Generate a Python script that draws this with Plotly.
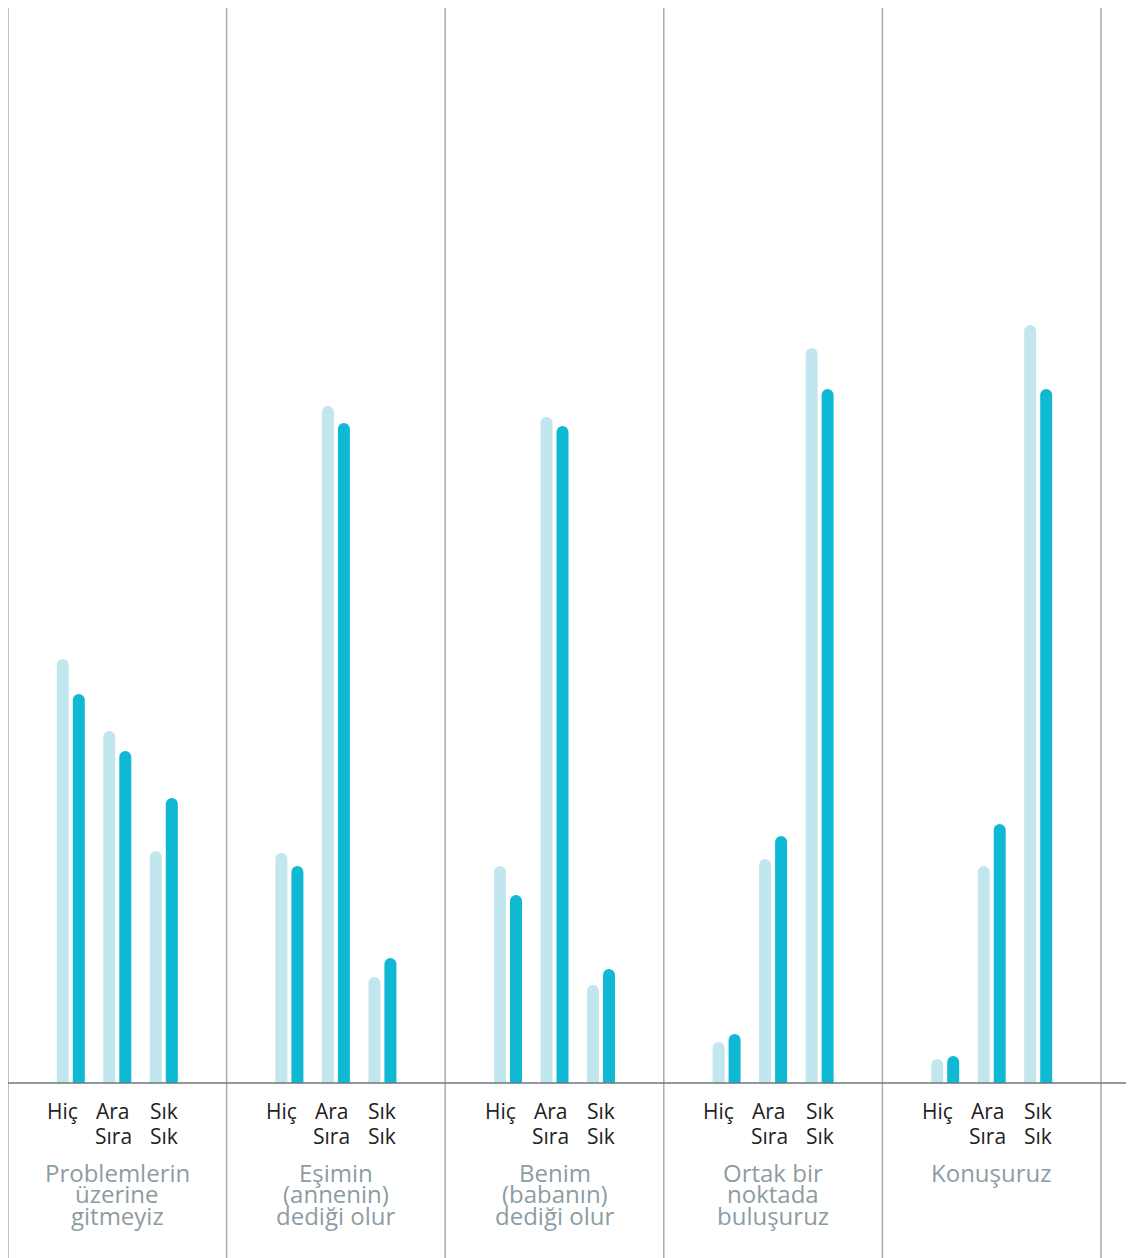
import plotly.graph_objects as go

# ---- data ----
group_labels = [
    ["Problemlerin", "üzerine", "gitmeyiz"],
    ["Eşimin", "(annenin)", "dediği olur"],
    ["Benim", "(babanın)", "dediği olur"],
    ["Ortak bir", "noktada", "buluşuruz"],
    ["Konuşuruz"],
]
sub_labels = [["Hiç"], ["Ara", "Sıra"], ["Sık", "Sık"]]

series_light = [42.4, 35.2, 23.2,
                23.0, 67.7, 10.6,
                21.7, 66.6, 9.8,
                4.1, 22.4, 73.5,
                2.4, 21.7, 75.8]
series_teal = [38.9, 33.2, 28.5,
               21.7, 66.0, 12.5,
               18.8, 65.7, 11.4,
               4.9, 24.7, 69.4,
               2.7, 25.9, 69.4]

# ---- layout helpers (page offset of 8px from body margin) ----
OFF = 8
W, H = 1134 - OFF, 1258 - OFF
GROUP_PX = 218.6
CENTER0_PX = 117.3 - OFF
BASE_PX = 1083 - OFF
PX_PER_UNIT = 10.0
SUB_STEP = 46.5 / GROUP_PX
BAR_W = 12 / GROUP_PX

xpos = []
for g in range(len(group_labels)):
    for s in range(3):
        xpos.append(g + (s - 1) * SUB_STEP)

LIGHT = "#c2e6ee"
TEAL = "#10b9d3"

fig = go.Figure()
fig.add_trace(go.Bar(x=xpos, y=series_light, width=BAR_W, offset=-14 / GROUP_PX,
                     marker=dict(color=LIGHT, line=dict(width=0), cornerradius="50%"),
                     hoverinfo="y", showlegend=False))
fig.add_trace(go.Bar(x=xpos, y=series_teal, width=BAR_W, offset=2 / GROUP_PX,
                     marker=dict(color=TEAL, line=dict(width=0), cornerradius="50%"),
                     hoverinfo="y", showlegend=False))

y_top = BASE_PX / PX_PER_UNIT
y_bot = -(H - BASE_PX) / PX_PER_UNIT
x_left = -CENTER0_PX / GROUP_PX
x_right = (W - CENTER0_PX) / GROUP_PX


def ypx(p):
    """page pixel row -> data y"""
    return (BASE_PX - (p - OFF)) / PX_PER_UNIT


shapes = []
for g in range(len(group_labels) + 1):
    shapes.append(dict(type="line", xref="x", yref="y", x0=g - 0.5, x1=g - 0.5,
                       y0=y_bot, y1=y_top, line=dict(color="#a4aeb3", width=1.5)))
shapes.append(dict(type="line", xref="paper", yref="y", x0=0, x1=1, y0=0, y1=0,
                   line=dict(color="#6e777c", width=1.5)))

annotations = []
sub_shift = [-8, -4, 0]
sub_line_px = [1111, 1136]
grp_line_px = [1172, 1193.5, 1215]
for g in range(len(group_labels)):
    for s, lines in enumerate(sub_labels):
        for li, txt in enumerate(lines):
            annotations.append(dict(x=g + (s - 1) * SUB_STEP, y=ypx(sub_line_px[li]),
                                    xref="x", yref="y", text=txt, showarrow=False,
                                    xshift=sub_shift[s], xanchor="center", yanchor="middle",
                                    font=dict(family="Open Sans", size=21, color="#222222")))
    for li, txt in enumerate(group_labels[g]):
        annotations.append(dict(x=g, y=ypx(grp_line_px[li]), xref="x", yref="y",
                                text=txt, showarrow=False, xanchor="center", yanchor="middle",
                                font=dict(family="Open Sans", size=24, color="#8d9ca3")))

fig.update_layout(
    width=W, height=H,
    margin=dict(l=0, r=0, t=0, b=0),
    paper_bgcolor="white", plot_bgcolor="white",
    barmode="overlay",
    xaxis=dict(range=[x_left, x_right], visible=False, fixedrange=True),
    yaxis=dict(range=[y_bot, y_top], visible=False, fixedrange=True),
    shapes=shapes, annotations=annotations,
)

fig.write_html("out.html")
